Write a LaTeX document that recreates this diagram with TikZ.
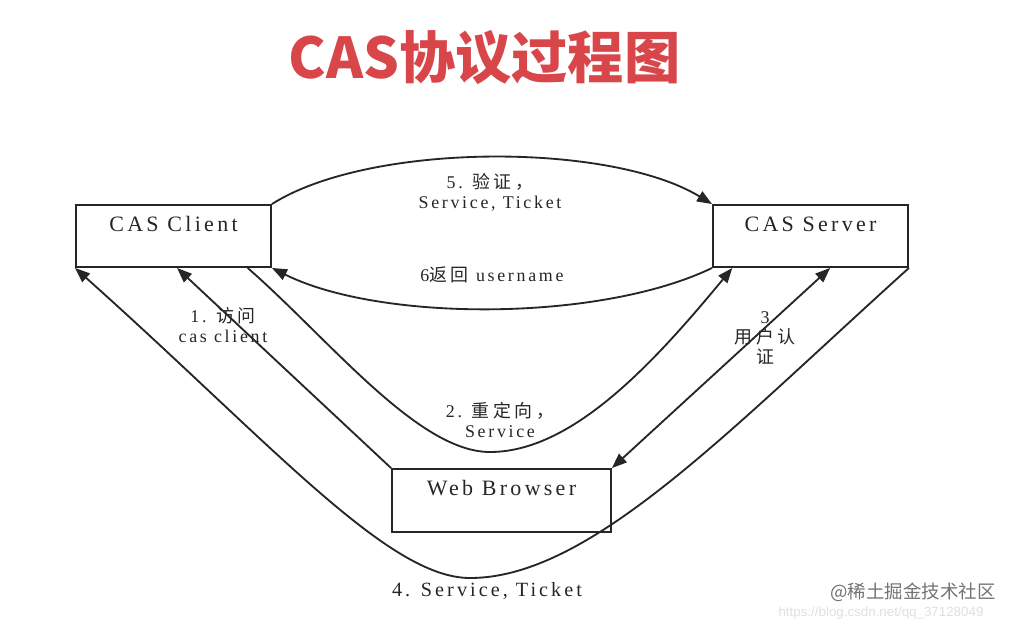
\documentclass[tikz,border=0pt]{standalone}
\usepackage{fontspec}
\setmainfont{Liberation Serif}
\newfontfamily\lab{Liberation Serif}[LetterSpace=15]
\newfontfamily\zh{Noto Sans CJK SC}[LetterSpace=20]
\newfontfamily\titlef{Noto Sans CJK SC}
\newfontfamily\wmzh{Noto Sans CJK SC}
\newfontfamily\wmurl{Liberation Sans}
\usetikzlibrary{arrows.meta,calc}
\definecolor{ttl}{RGB}{216,70,74}
\definecolor{ink}{RGB}{38,38,38}
\begin{document}
\begin{tikzpicture}[x=0.02cm,y=-0.02cm,
  box/.style={draw=ink, line width=1.1pt, inner sep=0pt, text height=0.52cm, text depth=0.72cm,
    font=\lab\fontsize{12.5}{14}\selectfont, text=ink},
  conn/.style={draw=ink, line width=1.05pt},
  tip/.style={-{Triangle[length=8.5pt,width=6.5pt]}},
  both/.style={{Triangle[length=8.5pt,width=6.5pt]}-{Triangle[length=8.5pt,width=6.5pt]}},
  lbl/.style={text=ink, font=\lab\fontsize{10.2}{11.3}\selectfont, align=center, inner sep=0pt}]
\useasboundingbox[fill=white] (0,0) rectangle (1012,623);

% title
\node[text=ttl, font=\titlef\bfseries\fontsize{32}{38}\selectfont, inner sep=0pt] (title) at (484.5,58) {CAS协议过程图};

% boxes
\node[box, minimum width=3.9cm] (client) at (173.5,236) {CAS Client};
\node[box, minimum width=3.9cm] (server) at (810.5,236) {CAS Server};
\node[box, minimum width=4.38cm, text depth=0.74cm] (wb) at (501.5,500.5) {Web Browser};

% 5 verify
\draw[conn,tip] (client.north east) .. controls (370,142) and (610,142) .. (server.north west);
% 6 return username
\draw[conn,tip] (server.south west) .. controls (600,322) and (380,322) .. (client.south east);
% 1 access
\draw[conn,tip] (wb.north west) -- ($(client.south west)!0.518!(client.south east)$);
% 2 redirect
\draw[conn,tip] ($(client.south west)!0.877!(client.south east)$) .. controls (330,340) and (418,452) .. (490,452)
   .. controls (572,452) and (653,364) .. ($(server.south west)!0.103!(server.south east)$);
% 3 authentication
\draw[conn,both] ($(server.south west)!0.6!(server.south east)$) -- (wb.north east);
% 4 service ticket
\draw[conn,tip] (server.south east) .. controls (728,431) and (590,578) .. (470,578)
   .. controls (388,578) and (272,444) .. (client.south west);

% labels
\node[lbl] (l5) at (490,192) {5. {\zh 验证，}\\Service, Ticket};
\node[lbl] (l6) at (492,275) {6{\zh 返回} username};
\node[lbl] (l1) at (223,325) {1. {\zh 访问}\\cas client};
\node[lbl] (l2) at (500,420) {2. {\zh 重定向，}\\Service};
\node[lbl] (l3) at (765,338) {3\\{\zh 用户认}\\{\zh 证}};
\node[lbl, font=\lab\fontsize{11.5}{13}\selectfont] (l4) at (487,591) {4. Service, Ticket};

% watermark
\node[text=black!12, font=\wmurl\fontsize{7.6}{9}\selectfont, inner sep=0pt] (url) at (881,613) {https://blog.csdn.net/qq\_37128049};
\node[text=black!55, font=\wmzh\fontsize{10.5}{12}\selectfont, inner sep=0pt] (wm) at (913,592) {@稀土掘金技术社区};
\end{tikzpicture}
\end{document}
